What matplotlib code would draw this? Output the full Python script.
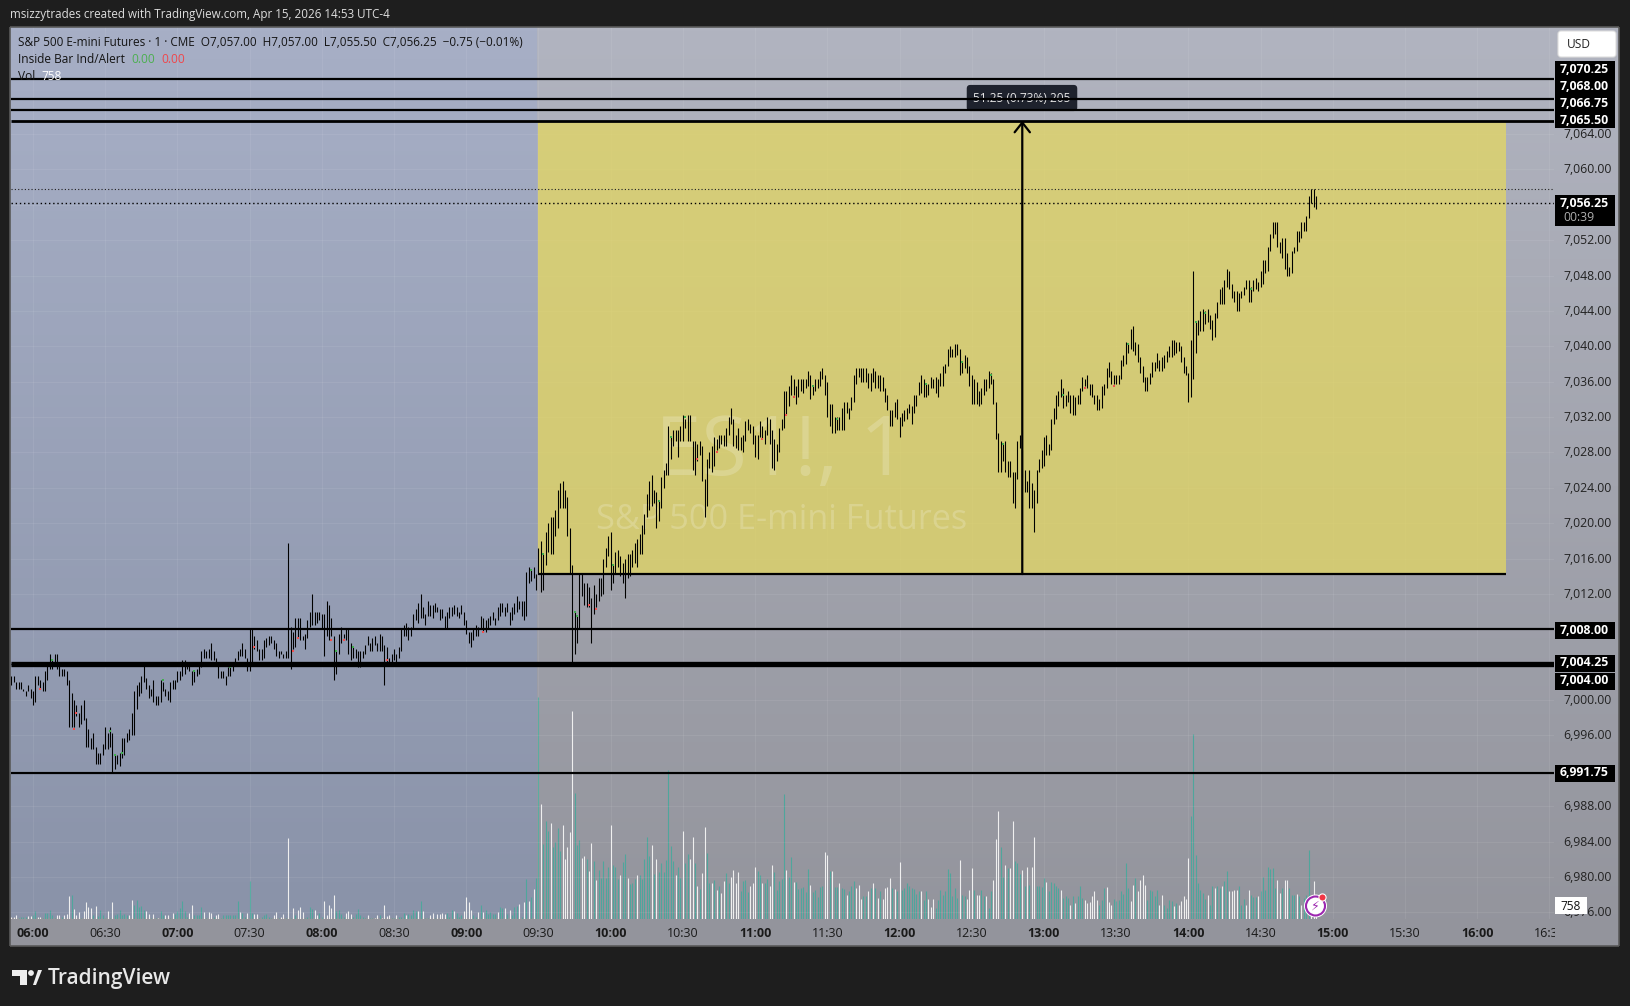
import numpy as np
import matplotlib
matplotlib.use("Agg")
import matplotlib.pyplot as plt
from matplotlib.patches import Rectangle, FancyBboxPatch, Polygon, Circle
from matplotlib.transforms import Bbox, ScaledTranslation

plt.rcParams['font.family'] = ['Open Sans', 'DejaVu Sans']

# ---------------- data: (high, low) of each 1-minute bar
first_bar_minute = -9   # minutes after 06:00
hl_premarket_a = [
(7002.75,7001.75),(7002.75,7002.0),(7002.0,7001.25),(7002.0,7001.25),(7002.0,7001.25),(7001.25,7001.0),(7001.0,7000.5),(7001.75,7001.0),(7001.25,7000.25),(7001.0,6999.5),
(7002.75,6999.75),(7002.75,7001.75),(7002.25,7001.25),(7002.0,7001.0),(7003.25,7001.0),(7004.0,7002.25),(7005.25,7003.5),(7004.5,7003.5),(7005.25,7004.25),(7005.25,7003.5),
(7004.0,7002.75),(7003.5,7002.75),(7003.5,7002.75),(7003.25,7001.75),(7002.25,6997.0),(7000.75,6997.0),(7000.0,6997.0),(6999.5,6998.25),(6998.5,6997.0),(6999.5,6997.25),
(7000.0,6997.75),(6998.0,6994.75),(6996.75,6994.75),(6995.75,6994.5),(6996.25,6994.5),(6994.75,6992.75),(6994.0,6992.75),(6994.0,6992.75),(6995.0,6993.75),(6997.0,6994.5),
(6996.25,6994.5),(6997.0,6994.75),(6996.25,6991.75),(6993.75,6992.25),(6993.75,6992.75),(6994.0,6992.5),(6995.75,6993.5),(6995.75,6993.75),(6996.25,6995.25),(6996.75,6995.5),
(6998.5,6996.0),(7001.0,6996.0),(7001.75,6999.0),(7002.0,7000.5),(7002.75,7000.75),(7004.0,7002.0),(7002.5,7001.25),(7001.75,7000.25),(7001.25,7000.5),(7002.25,6999.75),
(7000.5,6999.5),(7000.5,6999.5),(7002.25,6999.75),(7002.0,7001.0),(7001.25,7000.5),(7001.0,7000.0),(7002.0,6999.75),(7002.25,7001.25),(7002.25,7001.25),(7003.25,7002.0),
(7003.25,7002.25),(7004.5,7002.75),(7004.5,7003.0),(7004.25,7003.5),(7004.0,7003.25),(7003.25,7001.75),(7003.25,7002.0),(7003.5,7002.75),(7004.0,7003.0),(7005.5,7003.75),
(7005.75,7004.75),(7005.5,7004.75),(7005.75,7004.75),(7006.5,7004.5),(7005.5,7004.5),(7004.75,7004.0),(7004.0,7002.5),(7003.25,7002.5),(7003.25,7002.5),(7002.75,7001.75),
(7003.75,7002.75),(7003.75,7002.75),(7004.25,7003.25),(7004.75,7004.0),(7005.5,7004.5),(7005.75,7005.0),(7006.5,7005.0),(7005.75,7004.75),(7004.75,7003.25),(7008.0,7003.25),
]
hl_premarket_b = [
(7008.0,7004.25),(7007.25,7005.75),(7006.75,7005.5),(7005.75,7004.5),(7005.75,7004.5),(7006.75,7004.75),(7007.0,7006.0),(7007.25,7006.25),(7007.25,7006.5),(7006.75,7005.75),
]
hl_premarket_c = [
(7006.5,7005.0),(7005.5,7004.75),(7005.5,7005.25),(7005.25,7004.75),(7005.5,7004.75),(7017.75,7004.75),(7008.25,7003.5),(7007.75,7005.75),(7009.25,7006.0),(7009.25,7007.0),
(7009.25,7006.75),(7007.25,7006.75),(7007.5,7005.75),(7009.0,7007.0),(7010.0,7008.25),(7012.0,7008.5),(7010.0,7008.5),(7010.0,7008.75),(7010.0,7009.0),(7009.75,7008.0),
(7009.75,7005.0),(7011.25,7007.25),(7010.75,7006.75),(7009.25,7007.25),(7007.25,7002.25),(7005.5,7003.0),(7007.5,7005.25),(7008.25,7006.5),(7007.5,7007.0),(7008.0,7006.75),
(7008.0,7005.25),(7006.5,7004.5),(7006.0,7004.75),(7005.75,7004.75),(7005.5,7003.75),(7005.5,7003.75),(7005.5,7004.75),(7006.25,7005.25),(7007.25,7006.25),(7006.5,7005.5),
(7007.0,7005.5),(7007.25,7006.25),(7006.5,7005.5),(7007.5,7005.5),(7007.25,7005.5),(7006.25,7001.75),(7006.0,7004.25),(7004.75,7004.25),(7005.25,7004.0),(7005.75,7004.5),
(7005.25,7004.25),(7006.0,7004.75),(7008.0,7005.5),(7008.5,7007.25),(7008.75,7007.25),(7008.25,7006.75),(7008.25,7007.25),(7009.75,7008.0),(7010.25,7009.0),(7011.0,7008.75),
(7012.0,7009.25),(7010.5,7009.25),(7009.75,7008.5),(7011.25,7009.5),(7010.75,7009.5),(7010.75,7009.25),(7011.0,7010.0),(7010.5,7010.0),(7010.25,7009.0),(7010.25,7009.25),
(7009.5,7008.0),(7010.0,7008.0),(7010.5,7009.25),(7010.5,7009.5),(7010.75,7009.75),(7010.5,7009.5),(7010.0,7009.25),(7010.75,7009.75),(7010.0,7008.5),(7009.0,7007.5),
(7007.75,7006.5),(7007.75,7006.0),(7008.0,7006.75),(7008.5,7007.25),(7008.25,7007.25),(7009.5,7008.0),(7009.25,7007.75),(7009.0,7007.75),(7009.25,7008.0),(7009.5,7008.5),
(7010.0,7009.0),(7009.25,7008.5),(7010.5,7009.0),(7011.0,7009.5),(7011.0,7010.0),(7010.5,7009.5),(7011.0,7010.0),(7010.0,7008.5),(7010.5,7009.0),(7011.0,7009.75),
(7011.75,7010.0),(7011.25,7010.25),(7011.25,7009.5),(7011.25,7009.0),(7014.5,7009.5),(7015.0,7013.25),(7014.75,7013.5),(7015.0,7013.75),(7014.25,7012.5),(7017.25,7014.25),
(7018.0,7012.25),(7016.5,7012.5),
]
hl_morning = [
(7019.0,7015.25),(7020.0,7016.75),(7020.75,7016.5),(7020.75,7016.5),(7021.5,7018.5),(7023.75,7019.5),(7024.5,7021.75),(7024.75,7021.75),(7023.75,7021.75),(7023.0,7018.5),
(7019.5,7014.25),(7015.25,7004.25),(7010.0,7005.25),(7009.5,7006.5),(7014.25,7008.0),(7014.25,7011.75),(7013.25,7010.75),(7013.25,7010.5),(7012.75,7010.5),(7011.5,7006.5),
(7013.0,7009.75),(7012.0,7010.5),(7013.75,7011.25),(7013.75,7011.75),(7016.0,7012.0),(7017.25,7015.0),(7018.5,7016.25),(7019.0,7012.5),(7015.25,7013.25),(7016.75,7014.25),
(7017.0,7015.0),(7016.25,7014.0),(7015.5,7013.25),(7016.0,7011.5),(7016.5,7013.75),(7016.5,7014.0),(7017.0,7015.0),(7017.75,7015.5),(7018.25,7015.0),(7018.75,7016.5),
(7019.75,7016.5),(7021.0,7018.75),(7023.25,7020.75),(7024.75,7021.5),(7025.5,7022.0),(7023.75,7022.25),(7023.5,7019.5),(7022.5,7020.25),(7025.25,7021.75),(7026.0,7024.0),
(7026.75,7025.5),(7031.0,7025.5),(7029.75,7027.25),(7030.5,7028.75),(7030.5,7029.25),(7030.5,7027.5),(7031.0,7029.25),(7032.25,7029.25),(7031.75,7030.75),(7032.25,7029.25),
(7032.25,7029.25),(7029.25,7026.0),(7029.25,7025.5),(7029.0,7027.0),(7029.25,7027.75),(7028.75,7024.75),(7025.0,7020.75),(7027.25,7022.0),(7028.0,7026.25),(7028.75,7025.75),
(7029.75,7026.5),(7029.5,7028.25),(7030.0,7028.5),(7030.0,7029.0),(7030.0,7028.75),(7030.75,7028.75),(7032.0,7030.0),(7033.0,7031.25),(7031.75,7028.75),(7030.0,7028.5),
(7030.75,7028.25),(7029.75,7028.25),(7030.0,7028.0),(7031.5,7029.25),(7031.75,7030.5),(7031.25,7030.25),(7031.0,7029.0),(7030.0,7027.5),(7030.0,7027.25),(7031.5,7029.75),
(7031.0,7029.5),(7030.5,7029.0),(7032.0,7030.0),(7031.75,7029.0),(7030.5,7026.25),(7029.5,7026.0),(7029.0,7027.0),(7030.75,7028.0),(7031.75,7030.5),(7035.0,7030.75),
]
hl_midday = [
(7035.0,7032.25),(7035.5,7033.25),
(7036.75,7034.5),(7036.25,7034.5),(7035.5,7033.5),(7036.25,7034.25),(7036.25,7035.0),(7036.25,7034.75),(7036.25,7035.25),(7037.25,7035.5),(7036.75,7034.0),(7035.5,7034.5),
(7036.25,7035.0),(7036.25,7035.25),(7037.25,7035.5),(7037.5,7036.25),(7036.75,7034.5),(7036.0,7032.0),(7033.5,7031.0),(7033.5,7030.25),(7032.0,7030.25),(7032.0,7030.5),
(7032.0,7030.5),(7033.0,7030.5),(7033.75,7030.5),(7033.75,7032.5),(7033.0,7031.75),(7034.25,7032.75),(7036.75,7033.75),(7037.5,7035.75),(7037.5,7036.5),(7037.5,7036.0),
(7037.5,7036.0),(7037.5,7036.0),(7037.0,7035.25),(7037.0,7035.0),(7037.5,7036.0),(7037.25,7035.25),(7036.75,7035.25),(7036.75,7035.0),(7036.5,7035.0),(7035.25,7033.75),
(7034.5,7032.75),(7032.75,7031.0),(7032.75,7031.0),(7033.75,7032.0),(7034.0,7031.75),(7032.0,7029.75),(7032.5,7031.0),(7032.75,7031.5),(7033.0,7031.75),(7033.5,7032.5),
(7033.25,7031.25),(7034.5,7032.5),(7034.5,7033.25),(7036.0,7034.5),(7036.75,7034.75),(7036.25,7034.25),(7035.75,7034.25),(7035.75,7034.5),(7036.5,7035.25),(7036.25,7035.25),
(7036.5,7034.75),(7036.25,7034.25),(7037.0,7035.5),(7037.75,7035.5),(7038.0,7037.0),(7039.75,7037.75),(7040.0,7038.75),(7039.75,7038.75),(7040.25,7038.75),(7040.25,7039.0),
(7039.75,7036.75),(7038.25,7037.0),(7039.0,7037.5),(7038.75,7037.0),(7037.75,7035.5),(7036.75,7033.5),(7036.25,7033.5),(7036.0,7033.5),(7035.0,7033.25),(7035.25,7033.5),
(7036.25,7034.5),(7036.25,7035.0),(7037.25,7035.25),(7037.0,7035.75),(7036.25,7033.5),(7033.75,7029.5),(7030.25,7025.75),(7029.25,7025.75),(7029.0,7027.0),(7029.25,7025.75),
(7027.0,7025.25),(7027.0,7025.25),(7025.75,7022.25),(7025.75,7021.75),(7029.25,7025.0),(7030.0,7028.5),(7028.25,7025.25),(7026.0,7023.5),(7024.75,7023.5),(7026.0,7021.75),
(7024.5,7021.75),(7023.75,7019.0),(7026.0,7022.25),(7027.25,7025.75),(7028.25,7026.25),(7029.75,7026.5),(7030.0,7027.75),(7029.0,7027.75),(7031.75,7028.25),(7033.0,7031.25),
(7034.5,7031.75),(7035.0,7033.25),
]
hl_afternoon = [
(7036.25,7034.25),(7035.25,7033.0),(7034.5,7033.25),(7035.0,7033.75),(7034.5,7032.5),(7034.5,7032.25),(7034.25,7032.25),(7034.5,7033.5),(7035.25,7033.5),(7036.5,7035.0),
(7036.25,7035.5),(7036.75,7035.25),(7035.75,7034.5),(7035.75,7034.25),(7034.5,7033.5),(7034.5,7032.75),(7034.0,7032.75),(7035.5,7033.0),(7035.75,7034.5),(7037.5,7035.25),
(7038.25,7036.5),(7037.25,7035.75),(7036.75,7035.75),(7036.75,7035.75),(7036.75,7035.75),(7038.5,7036.25),(7039.0,7037.75),(7040.5,7038.0),(7040.25,7039.25),(7042.0,7039.75),
(7042.25,7039.5),(7040.5,7039.0),(7040.25,7038.25),(7038.75,7037.0),(7037.75,7036.0),(7036.5,7035.0),(7036.5,7035.0),(7037.0,7035.75),(7038.25,7036.5),(7038.25,7037.25),
(7039.25,7037.5),(7038.5,7037.25),(7038.75,7037.25),(7039.0,7037.5),(7039.5,7038.25),(7040.0,7038.75),(7040.75,7038.75),(7040.75,7039.0),(7040.5,7039.25),(7040.5,7039.5),
(7040.0,7038.25),(7038.75,7037.0),(7037.75,7036.75),(7037.0,7033.75),(7040.75,7034.25),(7048.5,7036.25),(7042.75,7039.25),(7043.0,7041.25),(7044.0,7041.75),(7044.25,7041.75),
(7044.0,7042.5),(7044.25,7042.75),(7043.5,7042.0),(7043.0,7040.75),(7043.75,7041.0),(7045.0,7043.25),(7046.5,7044.75),(7046.75,7044.75),(7047.5,7044.75),(7048.75,7046.75),
(7048.5,7046.5),(7047.0,7045.5),(7046.25,7045.0),(7046.25,7044.0),(7046.0,7044.0),(7046.25,7045.5),(7046.75,7045.75),(7047.5,7046.5),(7047.5,7045.0),(7046.75,7045.0),
(7047.5,7046.25),(7047.75,7046.5),(7047.25,7046.25),(7048.5,7046.75),(7049.75,7047.0),(7049.75,7048.25),(7051.25,7048.5),(7052.75,7050.75),(7054.0,7052.25),(7054.0,7052.75),
(7054.0,7051.25),(7051.75,7050.5),(7052.25,7050.0),(7052.25,7048.75),(7050.5,7048.0),(7049.0,7048.0),(7050.75,7048.25),(7051.25,7050.5),(7053.0,7050.75),(7053.0,7051.75),
(7054.0,7052.25),(7054.0,7053.0),(7054.75,7053.0),(7057.0,7054.5),(7057.75,7056.25),(7057.75,7055.75),(7057.0,7055.5),
]
# signed volume per bar: positive = up bar (teal), negative = down bar (white)
vol_premarket = [
-80,-80,-220,60,80,80,80,-150,-170,180, 380,-120,-120,60,300,300,470,180,50,-220,
-220,80,-180,-250,-1130,1220,-520,-180,-350,50, -380,-830,-580,-550,180,-630,130,470,180,50,
-380,50,-830,180,250,470,180,250,220,-180, -970,720,930,580,630,470,-380,-250,40,-250,
60,-50,380,220,-180,-180,60,-300,250,380, 550,880,380,80,-300,-720,220,220,220,580,
-350,60,-350,-300,80,-220,-250,60,180,220, 220,220,180,180,880,-350,300,80,-300,1880,
300,-250,-250,60,80,180,250,80,60,-220, -350,60,-80,-250,60,-4050,60,-550,220,-470,
-580,-350,60,100,580,520,-470,-180,300,80, -920,-180,-680,-550,-1180,380,470,250,80,-300,
-380,-250,80,250,480,180,80,60,-220,60, 60,-50,-220,180,-60,-720,-130,-180,60,50,
-220,80,80,300,-180,250,180,470,380,-380, 920,-380,60,40,-220,-300,60,-250,-250,-300,
-250,300,100,470,-380,300,80,220,-380,-1080, -850,-450,180,100,-350,680,-350,470,250,350,
250,250,-350,580,550,-550,250,-470,180,580, 630,-750,100,-850,2020,-880,1120,-1500,2050,11100,
]
vol_morning = [
-5750,3750,4920,4420,-4780,3580,3830,4530,3380,-4720,-3020,-3620,-4370,-10400,6300,3720,3950,-3050,-3170,3020,
-2420,-3780,2920,-1970,2450,2050,2920,2050,2620,-4720,2720,2620,2000,-2220,2830,3250,-2050,1750,1780,2000,
-2220,2220,2000,3000,4120,3170,-3720,2250,-3020,2370,2820,2370,2950,7470,3670,2920,-2220,2620,2050,-4420,
2820,3250,-3020,-4120,2820,-1670,1500,-2320,-4620,3320,1780,-1820,1970,-1470,1650,-1280,-1920,2320,1820,-2120,
-2450,-1780,-2370,1420,1920,1970,1330,-1670,-1820,-2620,2420,2220,-1780,1820,2000,-1670,-2720,2370,1470,1920,
2000,6250,-2470,2120,3120,-1870,1830,1480,1530,1620,1370,2500,-1720,1330,1470,1120,1580,1670,-3370,-3220,2420,
]
vol_afternoon = [
-2380,1580,1620,-1800,1550,1520,-1180,1380,1630,1920,-1550,-1680,-1020,1130,1130,-1420,1550,-1820,1550,-1050,
1420,-1020,-1550,-1580,-2050,1550,-1480,1380,-2830,1470,1550,1800,1630,1550,1520,1250,1420,-1380,970,1380,
-980,-580,-1020,550,970,1470,1180,1380,2500,2300,1130,1550,1050,-2930,1180,1130,-1020,-1470,-2550,1450,
-1220,-1180,1470,1130,-1130,550,1380,-1970,-4020,-5420,3580,2080,-2680,2550,-2550,-4880,2880,2800,2250,-2470,
1630,-2580,1720,-2580,-4080,1630,1630,1620,2050,-1850,1380,1830,1800,1630,1550,-1470,1050,1130,1050,-720,
1130,-800,1130,1630,1050,-970,-800,-850,-1130,-1380,-970,720,970,1550,-1580,-850,-720,1020,880,970,
1380,1250,2800,1550,-880,-1680,2050,-1420,-1970,-2180,-1680,970,1470,1380,1130,1470,-720,-1180,720,550,
970,920,-630,800,-680,-920,-1130,-1020,-3050,5130,9270,3220,1800,1470,1300,1020,-1180,720,1630,-1550,
1630,1550,-1630,1880,2380,-1380,-1420,-1470,-1470,1630,720,1020,-720,-1430,1180,1080,1080,-1130,1380,2080,
1470,2580,2520,2550,1550,-1970,-1280,1550,-1930,-1930,1550,1220,1180,-1270,1130,-720,1050,1220,3470,-1050,
-1880,-758,
]
# inside-bar indicator dots: (minute, price)
green_dots = [(8,7004.5),(32,6996.5),(34,6993.75),(37,6994.0),(54,7002.25),(63,7004.25),(67,7003.25),(82,7003.75),(126,7005.5),(133,7006.0),(183,7008.0),(207,7014.75),(212,7016.5),(225,7010.0),(226,7009.5),(241,7015.25),(260,7022.5),(265,7029.75),(271,7032.0),(324,7035.5),(334,7031.75),(371,7035.75),(386,7038.25),(398,7036.75),(403,7029.0),(428,7034.5),(455,7040.25),(483,7042.75),(487,7043.75),(506,7046.5)]
red_dots = [(3,7001.25),(17,6996.75),(18,6998.5),(92,7006.0),(108,7005.5),(110,7007.0),(124,7006.75),(129,7006.75),(147,7004.5),(187,7007.75),(231,7010.75),(234,7010.25),(276,7027.25),(284,7028.0),(303,7029.5),(313,7032.25),(316,7034.25),(437,7035.25),(449,7035.5)]

level_prices = [7070.25, 7068.00, 7066.75, 7065.50, 7008.00, 7004.25, 7004.00, 6991.75]
dotted_prices = [7057.75, 7056.25]
range_low, range_high = 7014.25, 7065.50
range_start, range_end, arrow_minute = 210, 612, 411
price_ticks = list(range(6976, 7065, 4))
time_ticks = list(range(0, 631, 30))
time_labels = [f"{6 + t // 60:02d}:{t % 60:02d}" for t in time_ticks]
legend_line = "S&P 500 E-mini Futures · 1 · CME  O7,057.00  H7,057.00  L7,055.50  C7,056.25  −0.75 (−0.01%)"

hl = hl_premarket_a + hl_premarket_b + hl_premarket_c + hl_morning + hl_midday + hl_afternoon
highs = np.array([a for a, b in hl])
lows = np.array([b for a, b in hl])
minutes = first_bar_minute + np.arange(len(hl))
volumes = np.array(vol_premarket + vol_morning + vol_afternoon, dtype=float)
assert len(hl) == 543, [len(x) for x in (hl_premarket_a, hl_premarket_b, hl_premarket_c, hl_morning, hl_midday, hl_afternoon)]
assert len(volumes) == 543, [len(x) for x in (vol_premarket, vol_morning, vol_afternoon)]

W, H = 1630, 1006
fig = plt.figure(figsize=(W / 100, H / 100), dpi=100, facecolor="#1e1e1e")

def rect_px(x0, y0, x1, y1):
    return [x0 / W, 1 - y1 / H, (x1 - x0) / W, (y1 - y0) / H]

# ---- panel background (gradient, blue pre-market tint)
bg = fig.add_axes(rect_px(10, 27, 1619, 946), zorder=0)
bg.set_axis_off()
ny, nx = 230, 400
yy = np.linspace(0, 1, ny)[:, None]
top_s, bot_s = np.array([177, 180, 192.]), np.array([147, 148, 156.])
img = (top_s[None, None, :] * (1 - yy[..., None]) + bot_s[None, None, :] * yy[..., None]) * np.ones((ny, nx, 1))
split_x = int((538 - 10) / 1609 * nx)
split_y = int((919 - 27) / 919 * ny)
top_p, bot_p = np.array([167, 175, 198.]), np.array([137, 146, 168.])
pre = top_p[None, None, :] * (1 - yy[..., None]) + bot_p[None, None, :] * yy[..., None]
img[:split_y, :split_x] = pre[:split_y] * np.ones((split_y, split_x, 1))
bg.imshow(img / 255, aspect="auto", extent=(0, 1, 0, 1), interpolation="nearest")

# ---- volume pane
xlim = ((10.5 - 33) / 2.407, (1554 - 33) / 2.407)
ylim = (6975.25, 7076.1)
ax = fig.add_axes(rect_px(10.5, 27, 1554, 919), zorder=3)
ax.patch.set_alpha(0)
ax.set_xlim(*xlim)
ax.set_ylim(*ylim)
axv = fig.add_axes(rect_px(10.5, 27, 1554, 919), zorder=2, sharex=ax)
axv.patch.set_alpha(0)
axv.set_ylim(0, 892 * 50)
axv.set_yticks([])
axv.tick_params(axis="x", length=0, labelbottom=False)
for s in axv.spines.values():
    s.set_visible(False)
up = volumes > 0
axv.vlines(minutes[up], 0, volumes[up], colors="#4fa69c", linewidth=0.8)
axv.vlines(minutes[~up], 0, -volumes[~up], colors="#efefef", linewidth=0.8)

# ---- price pane
for s in ax.spines.values():
    s.set_visible(False)
ax.set_xticks(time_ticks)
ax.set_xticklabels(time_labels, fontsize=9, color="#1a1a1a")
for t, lab in zip(time_ticks, ax.get_xticklabels()):
    if t % 60 == 0:
        lab.set_fontweight("bold")
    lab.set_clip_on(True)
    lab.set_clip_box(Bbox([[0, 0], [1555, H]]))
ax.yaxis.tick_right()
ax.set_yticks(price_ticks)
ax.set_yticklabels([f"{p:,.2f}" for p in price_ticks], fontsize=8.8, color="#222222")
ax.tick_params(axis="both", length=0)
ax.tick_params(axis="y", pad=6.5)
ax.tick_params(axis="x", pad=6)
up_shift = ScaledTranslation(0, 1.0 / 100, fig.dpi_scale_trans)
for lab in ax.get_yticklabels():
    lab.set_transform(lab.get_transform() + up_shift)
ax.grid(True, color="white", alpha=0.07, linewidth=0.8)
ax.set_axisbelow(True)

ax.add_patch(Rectangle((range_start, range_low), range_end - range_start, range_high - range_low,
                       facecolor=(230 / 255, 217 / 255, 95 / 255), alpha=0.72, edgecolor="none", zorder=1))
ax.text(311, 7027.9, "ES1!, 1", fontsize=60, color="white", alpha=0.2, ha="center", va="center", zorder=1.5)
ax.text(311, 7020.4, "S&P 500 E-mini Futures", fontsize=24.7, color="white", alpha=0.2, ha="center", va="center", zorder=1.5)

ax.vlines(minutes, lows, highs, colors="#000000", linewidth=0.78, zorder=4)
ax.scatter(*zip(*green_dots), s=2.2, marker="s", color="#3fae4d", linewidths=0, zorder=5)
ax.scatter(*zip(*red_dots), s=2.2, marker="s", color="#f0504f", linewidths=0, zorder=5)

for p in level_prices:
    lw = 2.4 if p in (7004.25, 7004.00) else (2.0 if p == 7065.5 else 1.6)
    ax.hlines(p, xlim[0], xlim[1], colors="black", linewidth=lw, zorder=6)
ax.hlines(range_low, range_start, range_end, colors="black", linewidth=1.6, zorder=6)
ax.hlines(dotted_prices[0], xlim[0], xlim[1], colors="#222222", linewidth=0.8, linestyles=(0, (1, 2)), zorder=3)
ax.hlines(dotted_prices[1], xlim[0], xlim[1], colors="black", linewidth=1.0, linestyles=(0, (1, 2)), zorder=3)
ax.annotate("", xy=(arrow_minute, range_high), xytext=(arrow_minute, range_low),
            arrowprops=dict(arrowstyle="->,head_length=0.7,head_width=0.55", color="black", lw=1.6,
                            shrinkA=0, shrinkB=0), zorder=6)

# ---- overlay chrome in pixel coordinates
ov = fig.add_axes([0, 0, 1, 1], zorder=5)
ov.set_xlim(0, W)
ov.set_ylim(H, 0)
ov.set_axis_off()
ov.patch.set_alpha(0)

for (a, b, c, d) in [(10, 27, 1619, 27), (10, 946, 1619, 946), (10, 27, 10, 946), (1619, 27, 1619, 946)]:
    ov.plot([a, c], [b, d], color="#5a5a5a", lw=1.2, solid_capstyle="butt")

ov.text(10, 14.5, "msizzytrades created with TradingView.com, Apr 15, 2026 14:53 UTC-4",
        color="#dddddd", fontsize=8.4, va="center", fontweight="medium")
ov.text(18, 42, legend_line, color="#141414", fontsize=8.5, va="center")
ov.text(18, 59, "Inside Bar Ind/Alert", color="#141414", fontsize=8.6, va="center")
ov.text(131, 59, "0.00", color="#4caf50", fontsize=8.6, va="center")
ov.text(161, 59, "0.00", color="#f0464b", fontsize=8.6, va="center")
ov.text(18, 76, "Vol", color="#141414", fontsize=8.6, va="center")
ov.text(41, 76, "758", color="white", fontsize=8.6, va="center")

# tooltip of the measure arrow, under the level lines
ax.annotate("51.25 (0.73%) 205", xy=(1022, 98), xycoords=ov.transData, ha="center", va="center",
            fontsize=8.6, color="#e6e6e6", zorder=5,
            bbox=dict(boxstyle="round,pad=0.55,rounding_size=0.3", fc="#1e222d", ec="none"))

# price-scale boxes
ov.add_patch(Rectangle((1555, 61), 60, 67, fc="black", ec="none"))
for txt, y in [("7,070.25", 69), ("7,068.00", 86), ("7,066.75", 103), ("7,065.50", 120)]:
    ov.text(1609, y, txt, color="white", fontsize=8.8, fontweight="bold", ha="right", va="center")
ov.add_patch(Rectangle((1555, 195), 60, 31, fc="black", ec="none"))
ov.text(1609, 203, "7,056.25", color="white", fontsize=8.8, fontweight="bold", ha="right", va="center")
ov.text(1563, 217, "00:39", color="#b0b0b0", fontsize=8.8, ha="left", va="center")
for txt, y in [("7,008.00", 630), ("7,004.25", 663), ("7,004.00", 681), ("6,991.75", 773)]:
    ov.add_patch(Rectangle((1555, y - 8.5), 60, 17, fc="black", ec="none"))
    ov.text(1609, y, txt, color="white", fontsize=8.8, fontweight="bold", ha="right", va="center")
ov.add_patch(FancyBboxPatch((1560, 33), 54, 22, boxstyle="round,pad=2,rounding_size=3", fc="white", ec="#dddddd", lw=0.8))
ov.text(1567, 44.5, "USD", color="#222222", fontsize=8.6, va="center")
ov.add_patch(Rectangle((1555, 897), 32, 17, fc="white", ec="none"))
ov.text(1571, 906, "758", color="#111111", fontsize=8.6, ha="center", va="center")

# lightning badge
ov.add_patch(Circle((1315.5, 906), 11.5, fc="white", ec="none"))
ov.add_patch(Circle((1315.5, 906), 9.5, fc="white", ec="#9c27b0", lw=1.5))
ov.text(1315.5, 906.5, "⚡", color="#9c27b0", fontsize=9, ha="center", va="center", family="DejaVu Sans")
ov.add_patch(Circle((1322.5, 897.5), 3.6, fc="#f23645", ec="white", lw=0.8))

# TradingView brand
ov.add_patch(Polygon([(12, 970), (27, 970), (27, 985), (20, 985), (20, 976), (12, 976)], fc="#eeeeee", ec="none"))
ov.add_patch(Circle((31, 973), 2.9, fc="#eeeeee", ec="none"))
ov.add_patch(Polygon([(33, 985), (38, 970), (42, 970), (36, 985)], fc="#eeeeee", ec="none"))
ov.text(48, 978.5, "TradingView", color="#e8e8e8", fontsize=15, va="center", fontweight="semibold")

fig.savefig("out.png", dpi=100, facecolor=fig.get_facecolor())
